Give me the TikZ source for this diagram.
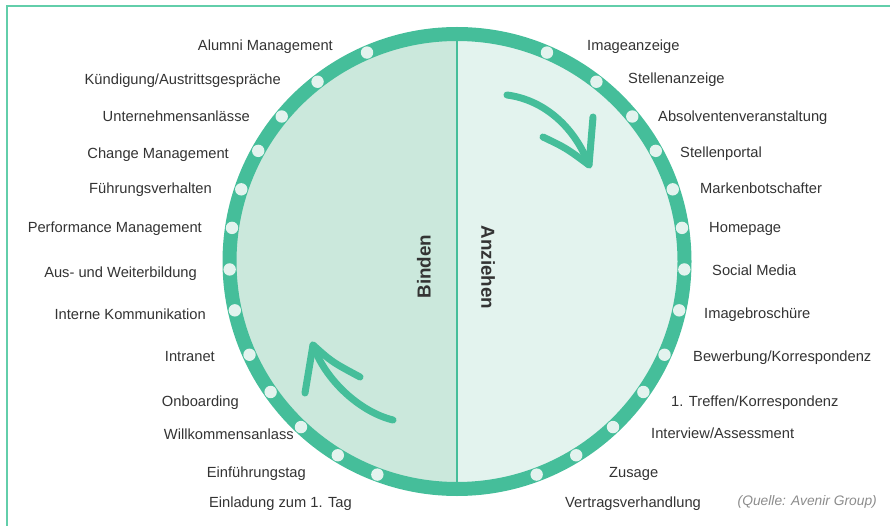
\documentclass[tikz,border=0pt]{standalone}
\usepackage{fontspec}
\setmainfont{Liberation Sans}
\usepackage{tikz}

\definecolor{ringgreen}{RGB}{69,190,154}
\definecolor{bindfill}{RGB}{203,232,220}
\definecolor{anziehfill}{RGB}{227,243,238}
\definecolor{framegreen}{RGB}{98,206,170}
\definecolor{labelgrey}{RGB}{51,51,51}
\definecolor{sourcegrey}{RGB}{140,140,140}

\begin{document}
\begin{tikzpicture}[x=1pt,y=1pt,yscale=-1,xscale=1,
  lbl/.style={font=\fontsize{14.7}{16}\selectfont, text=labelgrey, inner sep=0pt},
  half/.style={font=\fontsize{18.8}{22}\selectfont\bfseries, text=labelgrey, inner sep=0pt},
  dot/.style={fill=anziehfill},
  chalk/.style={draw=ringgreen, line width=7pt, line cap=round, line join=round}]
\useasboundingbox (0,0) rectangle (890,526);

%Frame
\draw [color=framegreen, line width=1.6pt] (890,6) -- (7,6) -- (7,526) ;

\coordinate (c) at (457,261.5);

%Shape: halves of the disc
\begin{scope}
\clip (c) circle (221);
\fill [bindfill] (200,20) rectangle (457,510) ;
\fill [anziehfill] (457,20) rectangle (720,510) ;
\end{scope}

%Shape: Ring
\draw [color=ringgreen, line width=14pt] (c) circle (227.5) ;

%Straight Lines: divider
\coordinate (divtop) at (457,41);
\coordinate (divbot) at (457,482);
\draw [color=ringgreen, line width=1.5pt] (divtop) -- (divbot) ;

%Shape: Circle (dots, right half)
\fill [dot] (c) ++(-66.7:227.5) circle (6.2) ;
\fill [dot] (c) ++(-52.2:227.5) circle (6.2) ;
\fill [dot] (c) ++(-39.6:227.5) circle (6.2) ;
\fill [dot] (c) ++(-29.1:227.5) circle (6.2) ;
\fill [dot] (c) ++(-18.5:227.5) circle (6.2) ;
\fill [dot] (c) ++(-8.5:227.5) circle (6.2) ;
\fill [dot] (c) ++(2:227.5) circle (6.2) ;
\fill [dot] (c) ++(12.4:227.5) circle (6.2) ;
\fill [dot] (c) ++(24.2:227.5) circle (6.2) ;
\fill [dot] (c) ++(35:227.5) circle (6.2) ;
\fill [dot] (c) ++(46.7:227.5) circle (6.2) ;
\fill [dot] (c) ++(58.4:227.5) circle (6.2) ;
\fill [dot] (c) ++(69.5:227.5) circle (6.2) ;

%Shape: Circle (dots, left half)
\fill [dot] (c) ++(246.7:227.5) circle (6.2) ;
\fill [dot] (c) ++(232.2:227.5) circle (6.2) ;
\fill [dot] (c) ++(219.6:227.5) circle (6.2) ;
\fill [dot] (c) ++(209.1:227.5) circle (6.2) ;
\fill [dot] (c) ++(198.5:227.5) circle (6.2) ;
\fill [dot] (c) ++(188.5:227.5) circle (6.2) ;
\fill [dot] (c) ++(178:227.5) circle (6.2) ;
\fill [dot] (c) ++(167.6:227.5) circle (6.2) ;
\fill [dot] (c) ++(155.8:227.5) circle (6.2) ;
\fill [dot] (c) ++(145:227.5) circle (6.2) ;
\fill [dot] (c) ++(133.3:227.5) circle (6.2) ;
\fill [dot] (c) ++(121.6:227.5) circle (6.2) ;
\fill [dot] (c) ++(110.5:227.5) circle (6.2) ;

%Chalk arrow, right
\draw [chalk] (507,95) .. controls (545,100) and (575,128) .. (589,165) ;
\draw [chalk] (543,137) .. controls (566,148) .. (589,165) -- (593,117) ;

%Chalk arrow, left
\draw [chalk] (393,420) .. controls (360,412) and (325,380) .. (313,345) ;
\draw [chalk] (305,393) -- (313,345) .. controls (332,362) .. (360,377) ;

% Text Node: halves
\node [half, rotate=90] (binden) at (424,266.5) {Binden};
\node [half, rotate=-90] (anziehen) at (488,267.5) {Anziehen};

% Text Node: right labels
\node [lbl, anchor=base west] (imageanzeige) at (587,51) {Imageanzeige};
\node [lbl, anchor=base west] (stellenanzeige) at (628,84) {Stellenanzeige};
\node [lbl, anchor=base west] (absolventen) at (658,122) {Absolventenveranstaltung};
\node [lbl, anchor=base west] (stellenportal) at (680,158) {Stellenportal};
\node [lbl, anchor=base west] (botschafter) at (700,194) {Markenbotschafter};
\node [lbl, anchor=base west] (homepage) at (709,233) {Homepage};
\node [lbl, anchor=base west] (socialmedia) at (712,276) {Social Media};
\node [lbl, anchor=base west] (broschuere) at (704,318) {Imagebroschüre};
\node [lbl, anchor=base west] (bewerbung) at (693,361) {Bewerbung/Korrespondenz};
\node [lbl, anchor=base west] (treffen) at (671,406) {1. Treffen/Korrespondenz};
\node [lbl, anchor=base west] (interview) at (651,438) {Interview/Assessment};
\node [lbl, anchor=base west] (zusage) at (609,477) {Zusage};
\node [lbl, anchor=base west] (vertrag) at (565,507) {Vertragsverhandlung};

% Text Node: left labels
\node [lbl, anchor=base east] (alumni) at (333,51) {Alumni Management};
\node [lbl, anchor=base east] (kuendigung) at (281,85) {Kündigung/Austrittsgespräche};
\node [lbl, anchor=base east] (anlaesse) at (250,122) {Unternehmensanlässe};
\node [lbl, anchor=base east] (change) at (229,159) {Change Management};
\node [lbl, anchor=base east] (fuehrung) at (212,194) {Führungsverhalten};
\node [lbl, anchor=base east] (performance) at (202,233) {Performance Management};
\node [lbl, anchor=base east] (weiterbildung) at (197,277) {Aus- und Weiterbildung};
\node [lbl, anchor=base east] (kommunikation) at (206,319) {Interne Kommunikation};
\node [lbl, anchor=base east] (intranet) at (215,361) {Intranet};
\node [lbl, anchor=base east] (onboarding) at (239,406) {Onboarding};
\node [lbl, anchor=base east] (willkommen) at (294,439) {Willkommensanlass};
\node [lbl, anchor=base east] (einfuehrung) at (306,477) {Einführungstag};
\node [lbl, anchor=base east] (einladung) at (352,507) {Einladung zum 1. Tag};

% Text Node: source
\node [font=\fontsize{13.8}{16}\selectfont\itshape, text=sourcegrey, inner sep=0pt, anchor=base east] (quelle) at (877,505) {(Quelle: Avenir Group)};

\end{tikzpicture}
\end{document}
